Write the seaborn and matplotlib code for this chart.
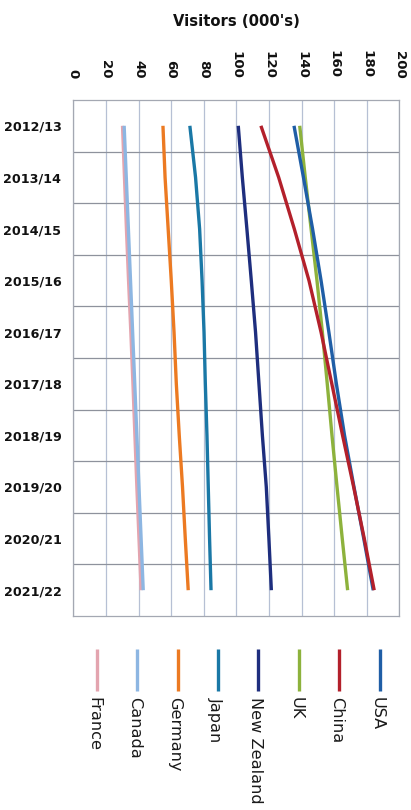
import numpy as np
import pandas as pd
import matplotlib
matplotlib.use("Agg")
import matplotlib.pyplot as plt
from matplotlib.lines import Line2D
import seaborn as sns

years = ["2012/13", "2013/14", "2014/15", "2015/16", "2016/17",
         "2017/18", "2018/19", "2019/20", "2020/21", "2021/22"]

france = [30.2, 31.4, 32.6, 33.9, 35.3, 36.6, 37.8, 39.0, 40.3, 41.6]
canada = [31.2, 32.5, 33.8, 35.1, 36.4, 37.7, 39.0, 40.3, 41.6, 42.9]
germany = [55.0, 56.3, 58.2, 60.1, 61.8, 63.2, 65.0, 67.0, 68.7, 70.5]
japan = [71.5, 75.0, 77.5, 79.0, 80.2, 81.0, 82.0, 82.8, 83.6, 84.5]
new_zealand = [101.2, 103.7, 106.5, 109.2, 111.8, 113.9, 116.0, 118.4, 120.0, 121.5]
uk = [138.9, 142.3, 145.9, 149.5, 152.8, 155.8, 158.7, 161.8, 165.0, 168.3]
china = [115.1, 126.0, 135.6, 144.6, 152.0, 158.6, 165.2, 172.0, 178.5, 184.6]
usa = [135.4, 141.2, 146.8, 152.0, 156.8, 161.4, 166.4, 172.2, 178.2, 184.0]

countries = ["France", "Canada", "Germany", "Japan", "New Zealand", "UK", "China", "USA"]
series = [france, canada, germany, japan, new_zealand, uk, china, usa]
colors = ["#E3A4AF", "#8DB6E2", "#EC7A22", "#1A78A6", "#1E2E7E", "#8DB23C", "#B3202B", "#1F5EA6"]
draw_order = ["France", "Canada", "Germany", "Japan", "New Zealand", "UK", "USA", "China"]

rows = []
for name, vals in zip(countries, series):
    for i, v in enumerate(vals):
        rows.append({"Country": name, "Year": years[i], "pos": i, "Visitors": v})
df = pd.DataFrame(rows)
palette = dict(zip(countries, colors))

sns.set_theme(style="white")
plt.rcParams["font.family"] = ["DejaVu Sans"]

W, H = 411, 810
fig = plt.figure(figsize=(W / 100, H / 100), dpi=100)
ax = fig.add_axes([73.3 / W, 1 - 616 / H, (399.3 - 73.3) / W, (616 - 100) / H])

sns.lineplot(data=df, x="Visitors", y="pos", hue="Country", hue_order=draw_order,
             palette=palette, orient="y", estimator=None, sort=True,
             linewidth=2.4, legend=False, ax=ax, solid_capstyle="butt")

ax.set_xlim(0, 200)
ax.set_ylim(9.5, -0.5)
ax.set_xticks(range(0, 201, 20))
ax.xaxis.tick_top()
ax.xaxis.set_label_position("top")
ax.tick_params(axis="x", length=0, pad=15.5, labelsize=9.6, labelrotation=-90)
for t in ax.get_xticklabels():
    t.set_fontweight("bold")
    t.set_color("#111111")
ax.set_xlabel("Visitors (000's)", fontweight="bold", fontsize=10.6, labelpad=17.6, color="#111111")
ax.set_ylabel("")

ax.set_yticks(range(len(years)))
ax.set_yticklabels(years, fontweight="bold", fontsize=9.2, color="#111111")
ax.set_yticks(np.arange(0.5, 9.5, 1), minor=True)
ax.tick_params(axis="y", which="both", length=0, pad=8.5)

ax.grid(axis="x", which="major", color="#b6c0d4", linewidth=0.9)
ax.grid(axis="y", which="major", visible=False)
ax.grid(axis="y", which="minor", color="#8e929c", linewidth=0.9)
ax.set_axisbelow(True)
for s in ax.spines.values():
    s.set_color("#a4a8b2")
    s.set_linewidth(0.9)

# legend drawn manually (vertical swatches with rotated labels)
x0, dx = 96.7, 40.4
for k, (name, col) in enumerate(zip(countries, colors)):
    xp = (x0 + k * dx) / W
    fig.add_artist(Line2D([xp, xp], [1 - 649 / H, 1 - 691 / H], color=col,
                          linewidth=2.4, solid_capstyle="butt", transform=fig.transFigure))
    fig.text((x0 + k * dx - 2.5) / W, 1 - 697 / H, name, rotation=-90, ha="center",
             va="top", fontsize=11.6, color="#1a1a1a")

fig.savefig("out.png", dpi=100)
